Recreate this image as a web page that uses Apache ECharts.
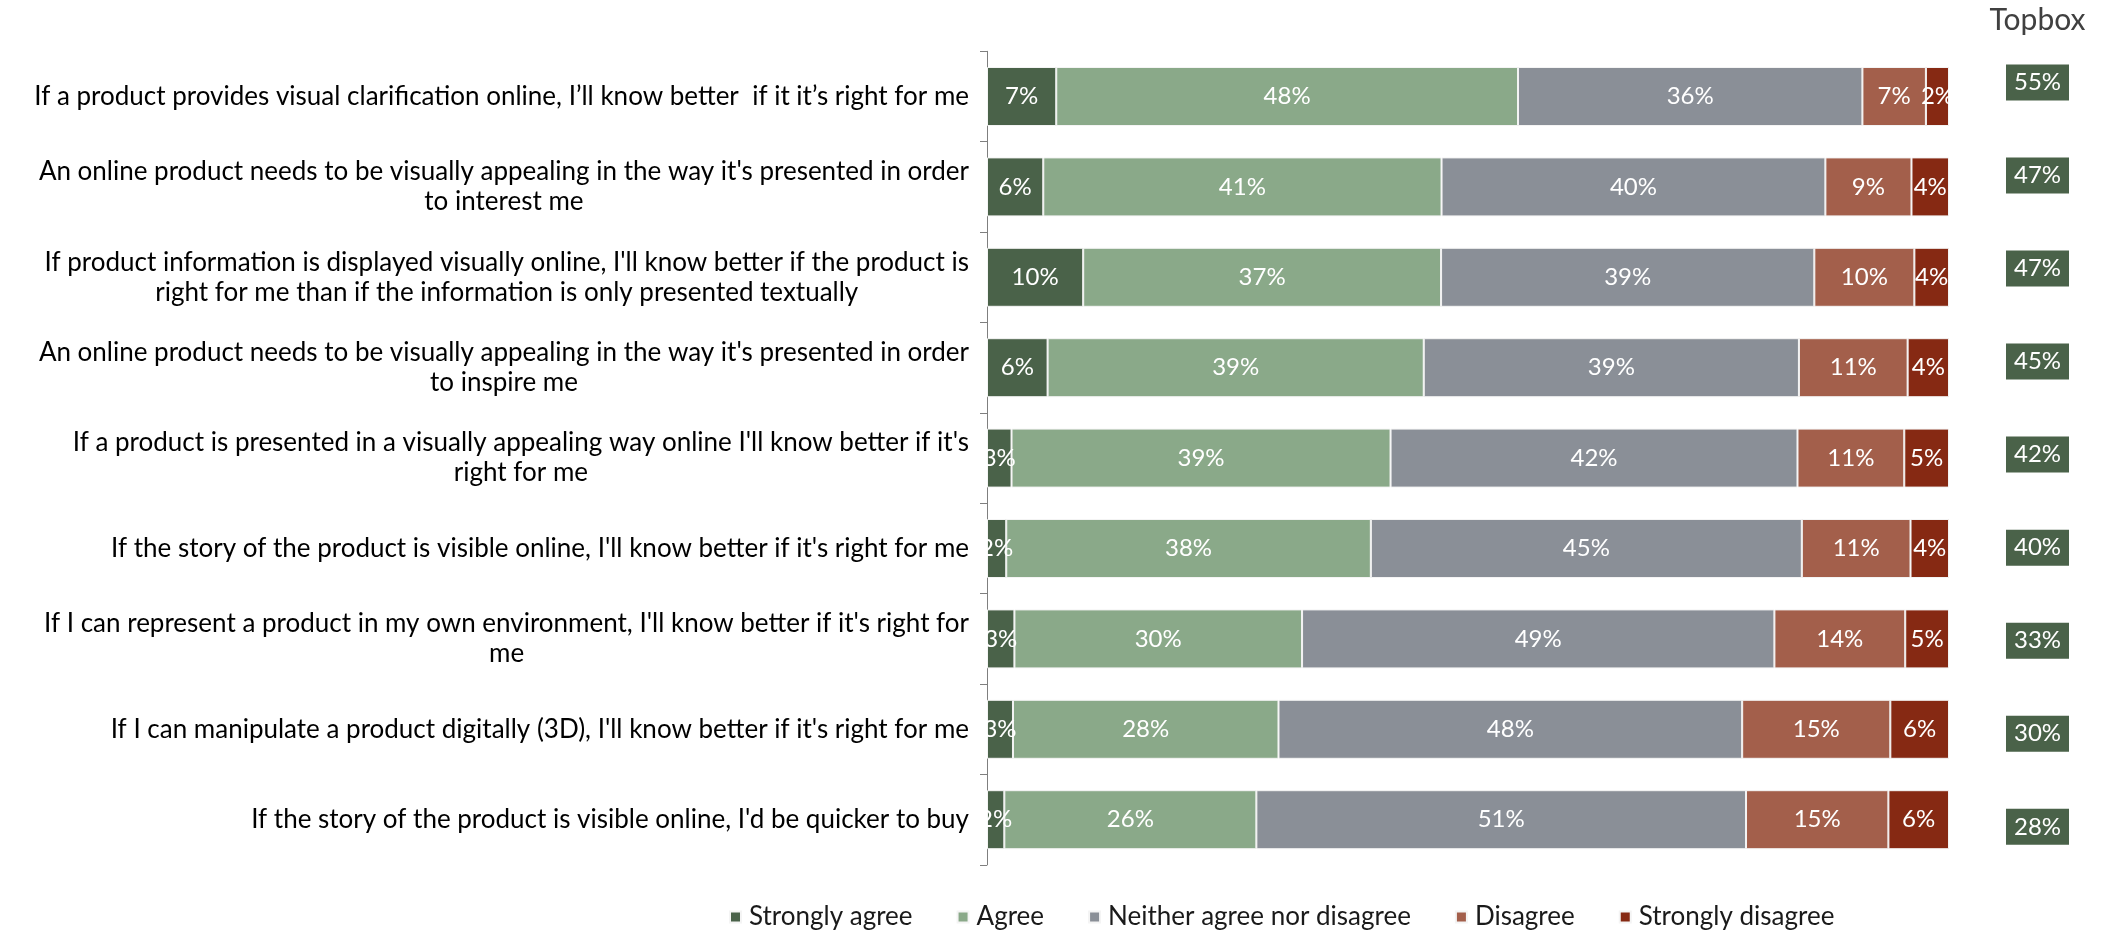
<!DOCTYPE html>
<html>
<head>
<meta charset="utf-8">
<script src="https://cdn.jsdelivr.net/npm/echarts@6/dist/echarts.min.js"></script>
<style>
  html, body { margin: 0; padding: 0; background: #ffffff; }
  #chart { width: 2118px; height: 930px; }
</style>
</head>
<body>
<div id="chart"></div>
<script>
// Survey statements (top to bottom); line breaks mark how each label wraps.
const categories = [
  "If a product provides visual clarification online, I\u2019ll know better  if it it\u2019s right for me",
  "An online product needs to be visually appealing in the way it's presented in order\nto interest me",
  "If product information is displayed visually online, I'll know better if the product is\nright for me than if the information is only presented textually",
  "An online product needs to be visually appealing in the way it's presented in order\nto inspire me",
  "If a product is presented in a visually appealing way online I'll know better if it's\nright for me",
  "If the story of the product is visible online, I'll know better if it's right for me",
  "If I can represent a product in my own environment, I'll know better if it's right for\nme",
  "If I can manipulate a product digitally (3D), I'll know better if it's right for me",
  "If the story of the product is visible online, I'd be quicker to buy"
];

// Answer shares in percent, one value per statement.
const stronglyAgree    = [7.2, 5.85, 10.0, 6.3, 2.55, 2.0, 2.85, 2.7, 1.8];
const agree            = [48.0, 41.4, 37.2, 39.1, 39.4, 37.9, 29.9, 27.6, 26.2];
const neither          = [35.8, 39.9, 38.8, 39.0, 42.3, 44.8, 49.1, 48.2, 50.9];
const disagree         = [6.6, 8.95, 10.4, 11.3, 11.1, 11.3, 13.6, 15.4, 14.8];
const stronglyDisagree = [2.4, 3.9, 3.6, 4.3, 4.65, 4.0, 4.55, 6.1, 6.3];

// Top-box score (strongly agree + agree) per statement.
const topbox = [55, 47, 47, 45, 42, 40, 33, 30, 28];
const topboxTitle = ['Topbox'];

const seriesNames = ['Strongly agree', 'Agree', 'Neither agree nor disagree', 'Disagree', 'Strongly disagree'];
const seriesData = [stronglyAgree, agree, neither, disagree, stronglyDisagree];
const colors = ['#4A6249', '#8AA989', '#8A8F97', '#A35F4B', '#862913'];

const FONT = 'Lato';

const chart = echarts.init(document.getElementById('chart'), null, { renderer: 'canvas' });

// Each wrapped line is centred inside the label block; the block itself is right-aligned.
function wrapLabel(text) {
  return text.split('\n').map(l => '{c|' + l + '}').join('\n');
}

const barSeries = seriesNames.map((name, i) => ({
  name: name,
  type: 'bar',
  stack: 'total',
  xAxisIndex: 0,
  yAxisIndex: 0,
  barWidth: 59,
  data: seriesData[i],
  itemStyle: { color: colors[i], borderColor: '#f4f4f4', borderWidth: 1 },
  label: {
    show: true,
    position: 'inside',
    color: '#ffffff',
    fontFamily: FONT,
    fontSize: 24,
    formatter: p => Math.round(p.value) + '%'
  },
  emphasis: { disabled: true }
}));

const option = {
  backgroundColor: '#ffffff',
  animation: false,
  legend: {
    data: seriesNames,
    left: 724,
    top: 899,
    icon: 'rect',
    itemWidth: 11,
    itemHeight: 11,
    itemGap: 44,
    textStyle: { fontFamily: FONT, fontSize: 26, color: '#1a1a1a', padding: [0, 0, 0, 3] }
  },
  grid: [
    { left: 987, width: 962, top: 51.3, height: 813.6, containLabel: false },
    { left: 1990, width: 95, top: 35.9, height: 837.4, containLabel: false }
  ],
  xAxis: [
    {
      type: 'value', gridIndex: 0, min: 0, max: 100,
      show: false
    },
    {
      type: 'category', gridIndex: 1, position: 'top', data: topboxTitle,
      axisLine: { show: false }, axisTick: { show: false },
      axisLabel: { fontFamily: FONT, fontSize: 30, color: '#404040', margin: 1 }
    }
  ],
  yAxis: [
    {
      type: 'category', gridIndex: 0, inverse: true, data: categories,
      axisLine: { show: true, lineStyle: { color: '#7f7f7f', width: 1 } },
      axisTick: { show: true, length: 7, lineStyle: { color: '#7f7f7f' } },
      axisLabel: {
        margin: 18,
        align: 'right',
        fontFamily: FONT,
        fontSize: 26,
        lineHeight: 30,
        color: '#000000',
        formatter: wrapLabel,
        rich: { c: { align: 'center', fontFamily: FONT, fontSize: 26, lineHeight: 30, color: '#000000' } }
      }
    },
    {
      type: 'category', gridIndex: 1, inverse: true, data: categories,
      show: false
    }
  ],
  series: barSeries.concat([{
    name: 'Topbox',
    type: 'scatter',
    xAxisIndex: 1,
    yAxisIndex: 1,
    symbol: 'rect',
    symbolSize: [63, 36],
    itemStyle: { color: '#4A6249', opacity: 1 },
    data: topbox.map((v, i) => [topboxTitle[0], categories[i], v]),
    label: {
      show: true,
      position: 'inside',
      color: '#ffffff',
      fontFamily: FONT,
      fontSize: 24,
      formatter: p => p.value[2] + '%'
    },
    emphasis: { disabled: true }
  }])
};

chart.setOption(option);
</script>
</body>
</html>
